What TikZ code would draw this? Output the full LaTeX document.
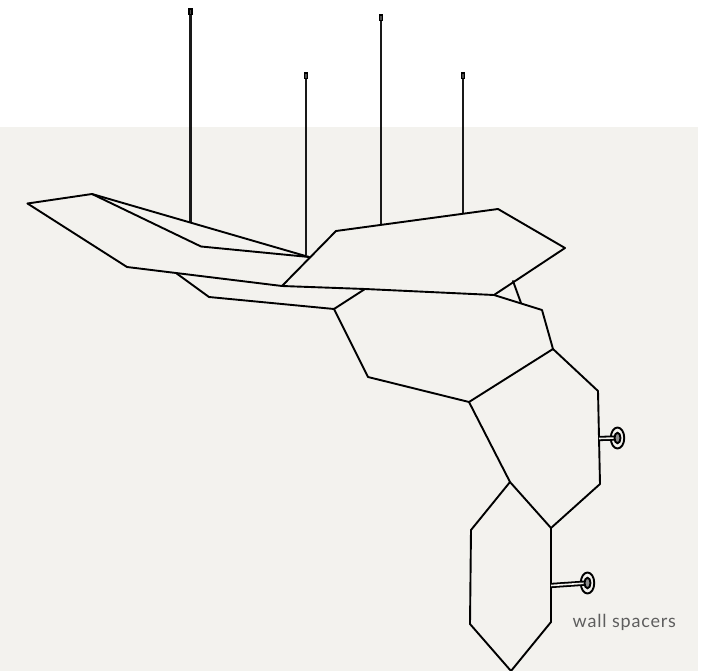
\documentclass[tikz,border=0pt]{standalone}
\usepackage{fontspec}
\usetikzlibrary{shapes.geometric}
\setmainfont{Lato}
\newfontfamily\labfont[LetterSpace=4.5]{Lato}
\definecolor{wallbg}{HTML}{F3F2EE}
\definecolor{labelgray}{HTML}{5E5E5E}
\tikzset{
  panel/.style={draw=black,line width=1.9pt,line join=round,line cap=round},
  wire/.style={draw=black!90,line width=2.2pt},
  clipbox/.style={draw=black,fill=black!70,line width=1.5pt,rectangle,minimum width=3.2pt,minimum height=5.5pt,inner sep=0pt},
  rod/.style={draw=black,line width=5.2pt},
  rodin/.style={draw=wallbg,line width=1.6pt},
  disc/.style={draw=black,fill=wallbg,line width=1.9pt,ellipse,inner sep=0pt,minimum width=13.5pt,minimum height=21pt},
  hub/.style={draw=black,fill=black!45,line width=1.9pt,ellipse,inner sep=0pt,minimum width=6pt,minimum height=10.5pt},
  lab/.style={text=labelgray,font=\labfont\fontsize{18}{20}\selectfont,inner sep=0pt,anchor=base west}
}
\begin{document}
\begin{tikzpicture}[x=1pt,y=-1pt]
\useasboundingbox (0,0) rectangle (707,671);
\fill[wallbg] (0,127) rectangle (698,671);
% suspension wires
\coordinate (w1) at (190.5,222);
\coordinate (w2) at (306,255);
\coordinate (w3) at (381,224);
\coordinate (w4) at (463,213);
\node[clipbox] (c1) at (190.5,12) {};
\node[clipbox] (c2) at (306,76) {};
\node[clipbox] (c3) at (381,18) {};
\node[clipbox] (c4) at (463,76) {};
\draw[wire] (c1) -- (w1);
\draw[wire] (c2) -- (w2);
\draw[wire] (c3) -- (w3);
\draw[wire] (c4) -- (w4);
% panels
\coordinate (j) at (309,257);
\draw[panel] (27.5,203.5) -- (92,194) -- (j);
\draw[panel] (92,194) -- (201,246.5) -- (j);
\draw[panel] (27.5,203.5) -- (127,267) -- (282,286) -- (365,289) -- (494,295);
\draw[panel] (282,286) -- (336,231) -- (498,209) -- (565,248) -- (494,295);
\draw[panel] (176,273) -- (209,297) -- (334,309) -- (365,289);
\draw[panel] (494,295) -- (542,310) -- (553,349) -- (469,402) -- (368,377) -- (334,309);
\draw[panel] (513,281) -- (521,303);
\draw[panel] (553,349) -- (598,391) -- (600,484) -- (551,528) -- (510,482) -- (469,402);
\draw[panel] (510,482) -- (471,530) -- (470,624) -- (511,671) -- (551,622) -- (551,528);
% wall spacers
\coordinate (s1) at (599,438.5);
\coordinate (s2) at (551,585.5);
\node[disc] (d1) at (617.5,438) {};
\node[disc] (d2) at (587.5,583) {};
\draw[rod] (s1) -- (d1.center);
\draw[rod] (s2) -- (d2.center);
\draw[rodin] (s1) -- (d1.center);
\draw[rodin] (s2) -- (d2.center);
\node[hub] (e1) at (617.5,438) {};
\node[hub] (e2) at (587.5,583) {};
\node[lab] (t) at (572.5,627.5) {wall spacers};
\end{tikzpicture}
\end{document}
